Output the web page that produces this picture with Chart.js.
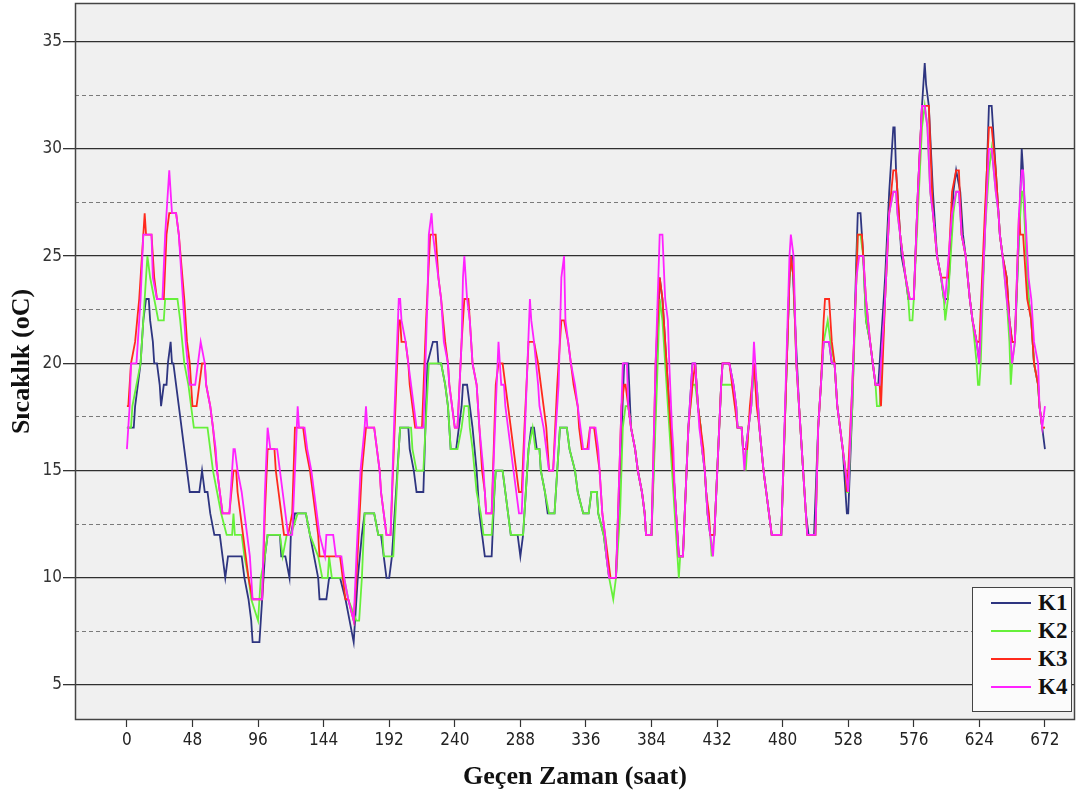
<!DOCTYPE html>
<html>
<head>
<meta charset="utf-8">
<script src="https://cdn.jsdelivr.net/npm/chart.js@4.4.1/dist/chart.umd.min.js"></script>
<style>
  html, body { margin: 0; padding: 0; background: #ffffff; }
  #wrap { position: relative; width: 1090px; height: 794px; }
  #legend {
    position: absolute; left: 972px; top: 587px; width: 100px; height: 125px;
    box-sizing: border-box; border: 1.5px solid #444; background: #fbfbfb;
    font: bold 23px "Liberation Serif", "Times New Roman", serif; color: #111;
    padding-top: 1px;
  }
  #legend .row { position: relative; height: 28px; line-height: 28px; }
  #legend .swatch { position: absolute; left: 18px; top: 13px; width: 40px; height: 2px; }
  #legend .lbl { position: absolute; left: 65px; top: 0; }
</style>
</head>
<body>
<div id="wrap">
  <canvas id="chart" width="1090" height="794"></canvas>
  <div id="legend"></div>
</div>
<script>
// Hourly temperature readings of four sensors, given as [hour, °C] turning points
const seriesNames = ['K1', 'K2', 'K3', 'K4'];
const seriesColors = ['#2e3580', '#66f03a', '#ff2a1c', '#ff22ff'];

const k1 = [[0,17],[5,17],[6,18],[8,19],[10,20],[12,22],[14,23],[16,23],[17,22],[19,21],[20,20],[22,20],[24,19],[25,18],[27,19],[29,19],[30,20],[32,21],[33,20],[34,20],[36,19],[38,18],[40,17],[42,16],[44,15],[46,14],[53,14],[55,15],[57,14],[59,14],[61,13],[64,12],[68,12],[70,11],[72,10],[74,11],[84,11],[86,10],[89,9],[91,8],[92,7],[97,7],[98,8],[100,10],[101,11],[103,12],[112,12],[113,11],[116,11],[119,10],[120,12],[123,13],[131,13],[134,12],[137,11],[140,10],[141,9],[146,9],[148,10],[156,10],[160,9],[163,8],[166,7],[167,8],[169,10],[172,12],[174,13],[181,13],[184,12],[186,12],[188,11],[190,10],[192,10],[194,11],[197,14],[200,17],[206,17],[207,16],[210,15],[212,14],[217,14],[220,20],[224,21],[227,21],[228,20],[230,20],[233,19],[235,18],[237,16],[241,16],[245,18],[246,19],[249,19],[251,18],[253,17],[256,15],[258,13],[262,11],[267,11],[269,14],[270,15],[275,15],[277,14],[279,13],[281,12],[286,12],[288,11],[290,12],[294,16],[296,17],[298,17],[300,16],[302,16],[303,15],[306,14],[308,13],[313,13],[317,17],[322,17],[324,16],[328,15],[330,14],[334,13],[338,13],[340,14],[344,14],[345,13],[349,12],[351,11],[353,10],[358,10],[361,15],[364,20],[367,20],[369,17],[372,16],[374,15],[377,14],[379,13],[380,12],[384,12],[388,20],[390,24],[392,23],[394,21],[397,18],[399,16],[401,14],[403,12],[404,11],[407,11],[411,17],[414,20],[416,20],[417,19],[418,18],[420,17],[421,16],[423,15],[424,14],[425,13],[427,12],[430,12],[435,19],[436,20],[441,20],[444,19],[446,18],[447,17],[450,17],[451,16],[453,16],[455,17],[457,18],[459,20],[461,19],[463,17],[466,15],[468,14],[470,13],[472,12],[479,12],[485,24],[487,25],[489,22],[492,18],[495,15],[497,13],[499,12],[503,12],[506,17],[507,18],[510,21],[514,21],[516,20],[518,20],[520,18],[522,17],[524,16],[526,14],[527,13],[528,13],[531,18],[534,25],[535,27],[537,27],[539,25],[541,22],[544,21],[546,20],[548,19],[550,19],[551,20],[555,24],[558,28],[561,31],[562,31],[563,29],[566,26],[567,25],[570,24],[572,23],[576,23],[579,28],[582,32],[584,34],[585,33],[587,32],[590,28],[593,25],[596,24],[598,23],[601,23],[605,28],[607,29],[610,28],[612,26],[614,25],[617,23],[619,22],[622,21],[624,20],[628,26],[631,32],[633,32],[636,29],[638,27],[639,26],[641,25],[644,24],[646,22],[648,21],[650,21],[653,26],[655,30],[656,29],[660,23],[662,22],[663,21],[664,20],[667,19],[668,18],[670,17],[672,16]];

const k2 = [[0,17],[3,17],[4,18],[7,19],[10,20],[12,22],[15,25],[17,24],[20,23],[23,22],[27,22],[28,23],[37,23],[39,22],[42,20],[45,19],[49,17],[59,17],[61,16],[63,15],[66,14],[69,13],[73,12],[77,12],[78,13],[79,12],[84,12],[86,11],[89,10],[91,9],[96,8],[98,10],[101,11],[103,12],[112,12],[114,11],[117,12],[120,12],[125,13],[131,13],[134,12],[140,11],[143,10],[147,10],[148,11],[150,10],[159,10],[162,9],[168,8],[170,8],[172,10],[174,13],[181,13],[184,12],[187,12],[188,11],[195,11],[199,16],[200,17],[208,17],[209,16],[212,15],[217,15],[221,20],[230,20],[233,19],[235,18],[237,16],[242,16],[245,17],[247,18],[250,18],[251,17],[253,16],[256,14],[259,13],[261,12],[267,12],[270,15],[275,15],[277,14],[279,13],[281,12],[290,12],[294,16],[297,17],[299,16],[302,16],[303,15],[306,14],[309,13],[313,13],[317,17],[322,17],[324,16],[328,15],[330,14],[334,13],[338,13],[340,14],[344,14],[345,13],[349,12],[351,11],[353,10],[356,9],[358,10],[361,13],[363,17],[365,18],[367,18],[369,17],[372,16],[374,15],[377,14],[379,13],[380,12],[384,12],[388,19],[390,23],[392,22],[394,20],[397,17],[400,14],[402,12],[404,10],[405,11],[407,11],[411,17],[414,19],[416,19],[418,18],[420,17],[421,16],[423,15],[425,13],[427,12],[428,11],[430,12],[435,19],[443,19],[446,18],[447,17],[450,17],[451,16],[453,15],[455,17],[457,18],[459,20],[461,19],[463,17],[466,15],[468,14],[470,13],[472,12],[479,12],[485,24],[486,25],[488,24],[490,20],[493,17],[496,14],[498,12],[504,12],[506,17],[508,19],[510,21],[513,22],[515,21],[518,20],[520,18],[522,17],[524,16],[526,15],[527,14],[528,14],[531,18],[534,24],[535,26],[537,26],[539,25],[541,22],[544,21],[546,20],[548,19],[549,18],[551,18],[555,23],[558,27],[561,28],[563,28],[564,27],[566,26],[568,25],[570,24],[572,23],[573,22],[575,22],[576,23],[579,27],[582,31],[584,32],[586,31],[588,28],[590,27],[593,25],[596,24],[598,23],[599,22],[601,23],[605,27],[607,28],[609,28],[611,26],[614,25],[617,23],[619,22],[622,20],[623,19],[624,19],[625,20],[628,26],[631,29],[633,30],[636,28],[638,27],[639,26],[641,25],[644,23],[646,21],[647,19],[648,20],[650,21],[653,26],[655,28],[656,28],[660,23],[662,22],[664,20],[667,19],[668,18],[670,17],[672,17]];

const k3 = [[0,18],[1,18],[3,20],[6,21],[9,23],[13,27],[14,26],[18,26],[19,25],[20,24],[22,23],[27,23],[29,26],[31,27],[36,27],[38,26],[42,23],[44,21],[46,20],[48,18],[51,18],[55,20],[57,20],[58,19],[61,18],[63,17],[66,15],[68,14],[70,13],[75,13],[78,15],[80,15],[81,14],[83,13],[85,12],[87,11],[89,10],[92,9],[99,9],[101,13],[103,16],[108,16],[109,15],[111,14],[113,13],[115,12],[118,12],[121,13],[123,17],[129,17],[131,16],[134,15],[136,14],[138,13],[140,12],[141,11],[156,11],[158,10],[160,9],[162,9],[166,8],[168,10],[172,15],[175,17],[181,17],[183,16],[185,15],[186,14],[188,13],[190,12],[193,12],[196,17],[199,22],[200,22],[201,21],[204,21],[206,20],[207,19],[209,18],[211,17],[216,17],[219,22],[222,26],[226,26],[228,24],[230,23],[233,21],[235,20],[236,19],[238,18],[240,17],[242,17],[245,21],[247,23],[250,23],[251,22],[253,20],[256,19],[258,17],[260,15],[262,14],[263,13],[267,13],[270,19],[272,20],[275,20],[277,19],[279,18],[281,17],[283,16],[285,15],[287,14],[289,14],[291,17],[294,21],[298,21],[301,20],[303,19],[305,18],[307,17],[309,15],[312,15],[315,19],[318,22],[320,22],[323,21],[325,20],[327,19],[330,18],[331,17],[333,16],[337,16],[339,17],[342,17],[344,16],[346,15],[348,13],[350,12],[352,11],[354,10],[358,10],[362,18],[364,19],[365,19],[367,18],[369,17],[372,16],[374,15],[377,14],[379,13],[380,12],[384,12],[387,20],[390,24],[392,23],[394,21],[397,18],[399,16],[401,14],[403,12],[404,11],[407,11],[411,17],[414,19],[416,20],[418,18],[420,17],[422,16],[424,14],[426,13],[427,12],[430,12],[435,19],[436,20],[441,20],[443,19],[445,18],[447,17],[450,17],[451,16],[454,16],[456,18],[459,20],[461,18],[463,17],[466,15],[468,14],[470,13],[472,12],[479,12],[485,24],[486,25],[488,24],[490,20],[493,17],[496,14],[498,12],[504,12],[506,17],[508,19],[510,22],[511,23],[514,23],[516,21],[518,20],[520,18],[522,17],[524,16],[526,15],[527,14],[528,15],[531,19],[534,24],[535,26],[538,26],[539,25],[541,23],[544,21],[546,20],[548,19],[551,19],[552,18],[555,23],[558,27],[561,29],[563,29],[564,28],[566,26],[568,25],[570,24],[573,23],[576,23],[579,28],[582,32],[587,32],[590,27],[593,25],[596,24],[601,24],[604,28],[607,29],[609,29],[611,26],[614,25],[617,23],[619,22],[622,21],[624,21],[628,27],[631,31],[633,31],[636,29],[638,27],[639,26],[641,25],[644,24],[646,22],[648,21],[650,21],[653,27],[654,26],[656,26],[659,23],[662,22],[664,20],[667,19],[668,18],[670,17],[672,17]];

const k4 = [[0,16],[1,17],[2,18],[3,20],[7,20],[8,21],[10,23],[12,26],[18,26],[19,24],[22,23],[26,23],[28,26],[30,28],[31,29],[32,28],[33,27],[36,27],[38,26],[41,23],[43,21],[46,19],[50,19],[52,20],[54,21],[57,20],[58,19],[61,18],[63,17],[65,16],[66,15],[68,14],[70,13],[75,13],[78,16],[79,16],[81,15],[84,14],[86,13],[88,12],[90,11],[92,9],[99,9],[101,14],[103,17],[105,16],[110,16],[112,15],[114,14],[116,13],[118,12],[121,12],[123,15],[125,18],[126,17],[130,17],[132,16],[135,15],[137,14],[139,13],[141,12],[145,11],[146,12],[151,12],[153,11],[157,11],[159,10],[162,9],[166,8],[168,11],[171,15],[174,17],[175,18],[176,17],[181,17],[183,16],[185,15],[186,14],[188,13],[190,12],[193,12],[196,18],[199,23],[200,23],[201,22],[204,21],[206,20],[208,19],[210,18],[212,17],[217,17],[220,23],[221,26],[223,27],[224,26],[226,25],[228,24],[230,23],[232,21],[235,20],[236,19],[238,18],[240,17],[242,17],[245,21],[246,24],[247,25],[249,23],[251,22],[253,20],[256,19],[258,17],[261,15],[262,14],[263,13],[267,13],[270,18],[272,21],[274,19],[276,19],[277,18],[279,17],[281,16],[283,15],[285,14],[287,13],[289,13],[292,18],[295,23],[296,22],[298,21],[301,19],[302,18],[305,17],[307,16],[309,15],[312,15],[316,19],[318,24],[320,25],[321,22],[323,21],[325,20],[328,19],[330,18],[332,17],[334,16],[338,16],[339,17],[343,17],[345,16],[346,15],[348,13],[350,12],[351,11],[353,10],[358,10],[361,16],[363,20],[366,20],[367,18],[369,17],[372,16],[374,15],[377,14],[379,13],[380,12],[384,12],[387,20],[390,26],[392,26],[394,23],[396,22],[397,20],[399,17],[400,16],[401,14],[402,13],[403,12],[404,11],[407,11],[411,17],[414,20],[416,20],[417,19],[418,18],[419,17],[421,16],[423,15],[424,14],[425,13],[427,12],[429,11],[430,12],[435,19],[436,20],[441,20],[444,19],[446,18],[447,17],[450,17],[451,16],[452,15],[453,16],[455,17],[457,18],[459,21],[461,19],[463,17],[466,15],[468,14],[470,13],[472,12],[479,12],[485,25],[486,26],[488,25],[490,20],[493,17],[496,14],[498,12],[504,12],[506,17],[508,19],[510,21],[514,21],[516,20],[518,20],[520,18],[522,17],[524,16],[526,15],[528,14],[531,19],[534,24],[536,25],[539,25],[541,23],[544,21],[546,20],[548,19],[551,19],[552,20],[555,23],[558,27],[561,28],[563,28],[564,27],[566,26],[568,25],[570,24],[573,23],[576,23],[579,28],[582,32],[584,32],[586,31],[588,28],[590,27],[593,25],[596,24],[599,23],[604,27],[607,28],[609,28],[611,26],[614,25],[617,23],[619,22],[622,21],[624,20],[628,26],[631,30],[633,30],[636,28],[638,27],[639,26],[641,25],[644,23],[646,22],[648,20],[650,21],[653,27],[655,29],[656,29],[660,24],[662,23],[664,21],[667,20],[668,18],[670,17],[672,18]];

const seriesData = [k1, k2, k3, k4];

// Axis ticks
const hourTicks = [0, 48, 96, 144, 192, 240, 288, 336, 384, 432, 480, 528, 576, 624, 672];
const tempMajorTicks = [5, 10, 15, 20, 25, 30, 35];
const tempMinorTicks = [7.5, 12.5, 17.5, 22.5, 27.5, 32.5];

const isMajor = v => tempMajorTicks.includes(v);
const tickFont = '"DejaVu Sans Condensed", "DejaVu Sans", sans-serif';
const titleFont = '"Liberation Serif", "Times New Roman", serif';

// Grey plot panel with a dark frame
const panelPlugin = {
  id: 'panel',
  beforeDraw(chart) {
    const a = chart.chartArea, ctx = chart.ctx;
    ctx.save();
    ctx.fillStyle = '#f0f0f0';
    ctx.fillRect(a.left, a.top, a.right - a.left, a.bottom - a.top);
    ctx.restore();
  },
  afterDraw(chart) {
    const a = chart.ctx, c = chart.chartArea;
    a.save();
    a.strokeStyle = '#444';
    a.lineWidth = 1.5;
    a.strokeRect(c.left + 0.5, c.top + 0.5, c.right - c.left - 1, c.bottom - c.top - 1);
    a.restore();
  }
};

const datasets = seriesData.map((pts, i) => ({
  label: seriesNames[i],
  data: pts.map(p => ({ x: p[0], y: p[1] })),
  borderColor: seriesColors[i],
  backgroundColor: seriesColors[i],
  borderWidth: 1.8,
  pointRadius: 0,
  tension: 0,
  fill: false,
  order: seriesNames.length - i
}));

const chart = new Chart(document.getElementById('chart'), {
  type: 'line',
  data: { datasets },
  options: {
    responsive: false,
    animation: false,
    events: [],
    layout: { padding: { top: 3, right: 15, left: 0, bottom: 0 } },
    plugins: { legend: { display: false }, tooltip: { enabled: false } },
    scales: {
      x: {
        type: 'linear',
        min: -38,
        max: 694,
        afterBuildTicks(scale) { scale.ticks = hourTicks.map(v => ({ value: v })); },
        afterFit(scale) {
          scale.height = 74;
          scale.paddingLeft = 0; scale.paddingRight = 0;
        },
        grid: { drawOnChartArea: false, drawTicks: true, tickLength: 7, tickColor: '#333', tickWidth: 1.2 },
        border: { display: false },
        ticks: {
          autoSkip: false, maxRotation: 0, padding: 3,
          color: '#222',
          font: { family: tickFont, size: 17 }
        },
        title: {
          display: true, text: 'Geçen Zaman (saat)', color: '#111',
          font: { family: titleFont, size: 26, weight: 'bold' },
          padding: { top: 0, bottom: 1 }
        }
      },
      y: {
        type: 'linear',
        min: 3.37,
        max: 36.8,
        afterBuildTicks(scale) {
          scale.ticks = tempMajorTicks.concat(tempMinorTicks).sort((a, b) => a - b).map(v => ({ value: v }));
        },
        afterFit(scale) {
          scale.width = 75;
          scale.paddingTop = 0; scale.paddingBottom = 0;
        },
        grid: {
          color: ctx => isMajor(ctx.tick.value) ? '#2f2f2f' : '#7a7a7a',
          lineWidth: ctx => isMajor(ctx.tick.value) ? 1.3 : 1,
          tickColor: ctx => isMajor(ctx.tick.value) ? '#333' : 'rgba(0,0,0,0)',
          tickLength: 12
        },
        border: { display: false, dash: ctx => isMajor(ctx.tick.value) ? [] : [4, 3] },
        ticks: {
          autoSkip: false, padding: 1, color: '#333',
          font: { family: tickFont, size: 17 },
          callback: v => isMajor(v) ? String(v) : ''
        },
        title: {
          display: true, text: 'Sıcaklık (oC)', color: '#111',
          font: { family: titleFont, size: 26, weight: 'bold' },
          padding: { top: 7, bottom: 0 }
        }
      }
    }
  },
  plugins: [panelPlugin]
});

// Legend box built from the datasets
const legend = document.getElementById('legend');
chart.data.datasets.forEach(ds => {
  const row = document.createElement('div');
  row.className = 'row';
  const sw = document.createElement('span');
  sw.className = 'swatch';
  sw.style.background = ds.borderColor;
  const lb = document.createElement('span');
  lb.className = 'lbl';
  lb.textContent = ds.label;
  row.appendChild(sw);
  row.appendChild(lb);
  legend.appendChild(row);
});
</script>
</body>
</html>
